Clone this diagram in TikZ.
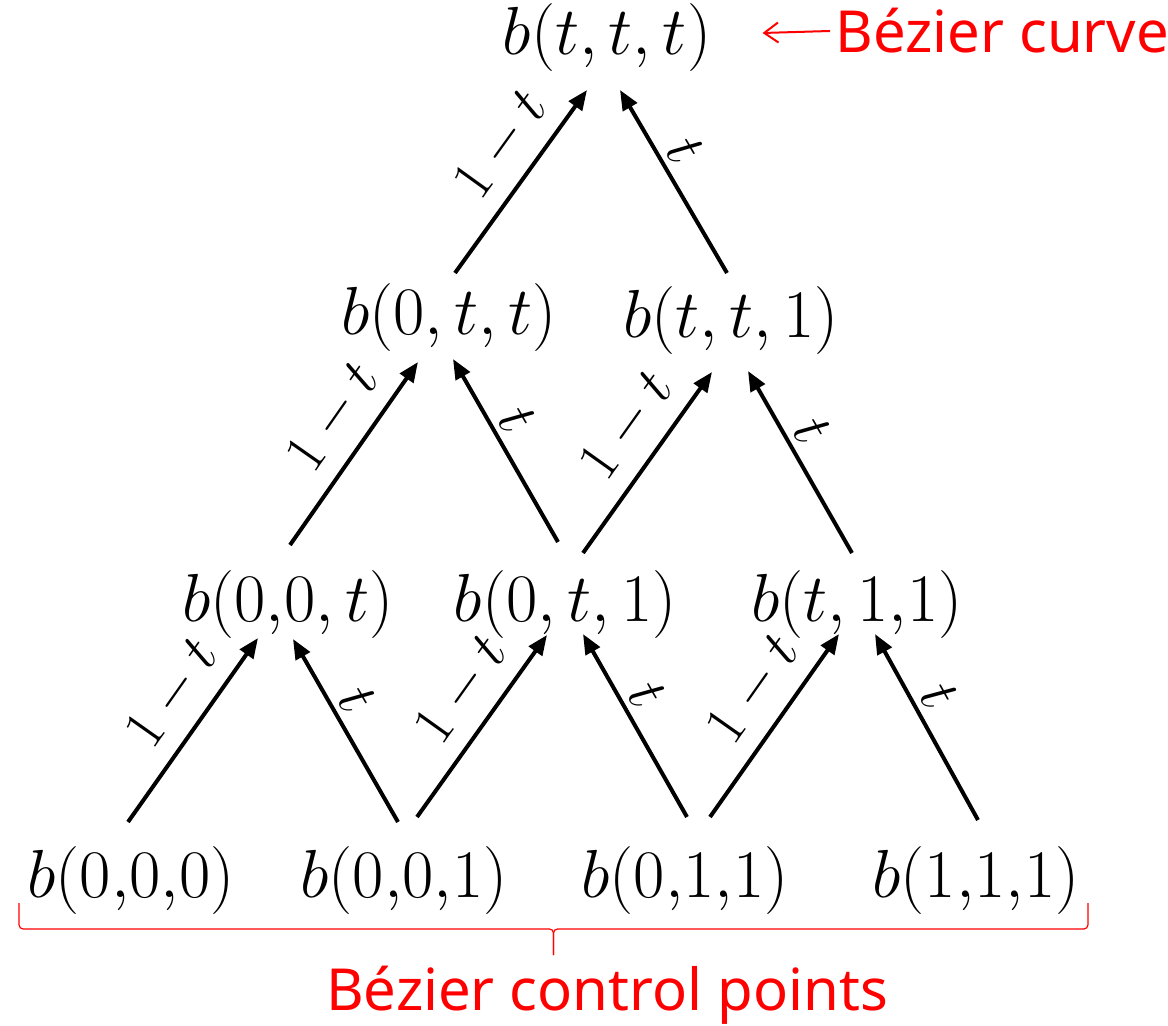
\RequirePackage{fix-cm}
\documentclass[tikz,border=0pt]{standalone}
\usepackage{fontspec}
\newfontfamily\bzsans{Noto Sans}
\definecolor{bzred}{RGB}{255,0,0}
\usetikzlibrary{arrows.meta,calc}

\begin{document}
\begin{tikzpicture}[x=0.5pt, y=-0.5pt,
  ptnode/.style={inner sep=0pt, anchor=base, font=\fontsize{34}{41}\selectfont},
  arrowline/.style={-{Triangle[length=10pt,width=8pt]}, line width=2pt},
  omtlabel/.style={pos=0.58, above, sloped, inner sep=7pt, font=\fontsize{29}{35}\selectfont},
  tlabel/.style={pos=0.6, above, sloped, inner sep=3pt, font=\fontsize{29}{35}\selectfont},
  redtext/.style={text=bzred, inner sep=0pt, font=\bzsans\fontsize{29}{35}\selectfont}]

\useasboundingbox (0,0) rectangle (1168,1026);

% Control points
\node[ptnode] (n000) at (131,897) {$b(0{,}0{,}0)$};
\node[ptnode] (n001) at (404,897) {$b(0{,}0{,}1)$};
\node[ptnode] (n011) at (685,897) {$b(0{,}1{,}1)$};
\node[ptnode] (n111) at (976,897) {$b(1{,}1{,}1)$};

% First step
\node[ptnode] (n00t) at (288,622) {$b(0{,}0,t)$};
\node[ptnode] (n0t1) at (565,622) {$b(0,t,1)$};
\node[ptnode] (nt11) at (857,622) {$b(t,1{,}1)$};

% Second step
\node[ptnode] (n0tt) at (449,335) {$b(0,t,t)$};
\node[ptnode] (ntt1) at (731,338) {$b(t,t,1)$};

% Curve point
\node[ptnode] (nttt) at (607,55) {$b(t,t,t)$};

% Arrows, bottom row
\draw[arrowline] ($(n000.base)+(-3,-75)$) -- node[omtlabel] {$1-t$} ($(n00t.base)+(-30,16)$);
\draw[arrowline] ($(n001.base)+(-6,-75)$) -- node[tlabel] {$t$} ($(n00t.base)+(5,17)$);
\draw[arrowline] ($(n001.base)+(13,-80)$) -- node[omtlabel] {$1-t$} ($(n0t1.base)+(-18,13)$);
\draw[arrowline] ($(n011.base)+(2,-80)$) -- node[tlabel] {$t$} ($(n0t1.base)+(18,12)$);
\draw[arrowline] ($(n011.base)+(25,-80)$) -- node[omtlabel] {$1-t$} ($(nt11.base)+(-18,12)$);
\draw[arrowline] ($(n111.base)+(2,-77)$) -- node[tlabel] {$t$} ($(nt11.base)+(18,12)$);

% Arrows, middle row
\draw[arrowline] ($(n00t.base)+(2,-77)$) -- node[omtlabel] {$1-t$} ($(n0tt.base)+(-31,27)$);
\draw[arrowline] ($(n0t1.base)+(-7,-80)$) -- node[tlabel] {$t$} ($(n0tt.base)+(4,24)$);
\draw[arrowline] ($(n0t1.base)+(18,-69)$) -- node[omtlabel] {$1-t$} ($(ntt1.base)+(-19,34)$);
\draw[arrowline] ($(nt11.base)+(-5,-69)$) -- node[tlabel] {$t$} ($(ntt1.base)+(17,33)$);

% Arrows, top row
\draw[arrowline] ($(n0tt.base)+(6,-62)$) -- node[omtlabel] {$1-t$} ($(nttt.base)+(-20,35)$);
\draw[arrowline] ($(ntt1.base)+(-4,-65)$) -- node[tlabel] {$t$} ($(nttt.base)+(13,35)$);

% Red annotations
\node[redtext, anchor=base west] (curve) at (835,53) {Bézier curve};
\draw[bzred, line width=1pt, -{Straight Barb[length=7pt,width=10pt]}]
  ($(curve.base west)+(-5,-22)$) -- ($(nttt.base east)+(51,-22)$);

% brace under the control points
\coordinate (bl) at ($(n000.base west)+(-8,6)$);
\coordinate (br) at ($(n111.base east)+(8,6)$);
\coordinate (bm) at ($(bl)!0.5!(br)$);
\draw[bzred, line width=0.6pt, rounded corners=2pt]
  (bl) |- ($(bm)+(0,26)$) -- ($(bm)+(0,52)$);
\draw[bzred, line width=0.6pt, rounded corners=2pt]
  (br) |- ($(bm)+(0,26)$) -- ($(bm)+(0,52)$);
\node[redtext, anchor=base] (ctrl) at (607,1010) {Bézier control points};

\end{tikzpicture}
\end{document}
